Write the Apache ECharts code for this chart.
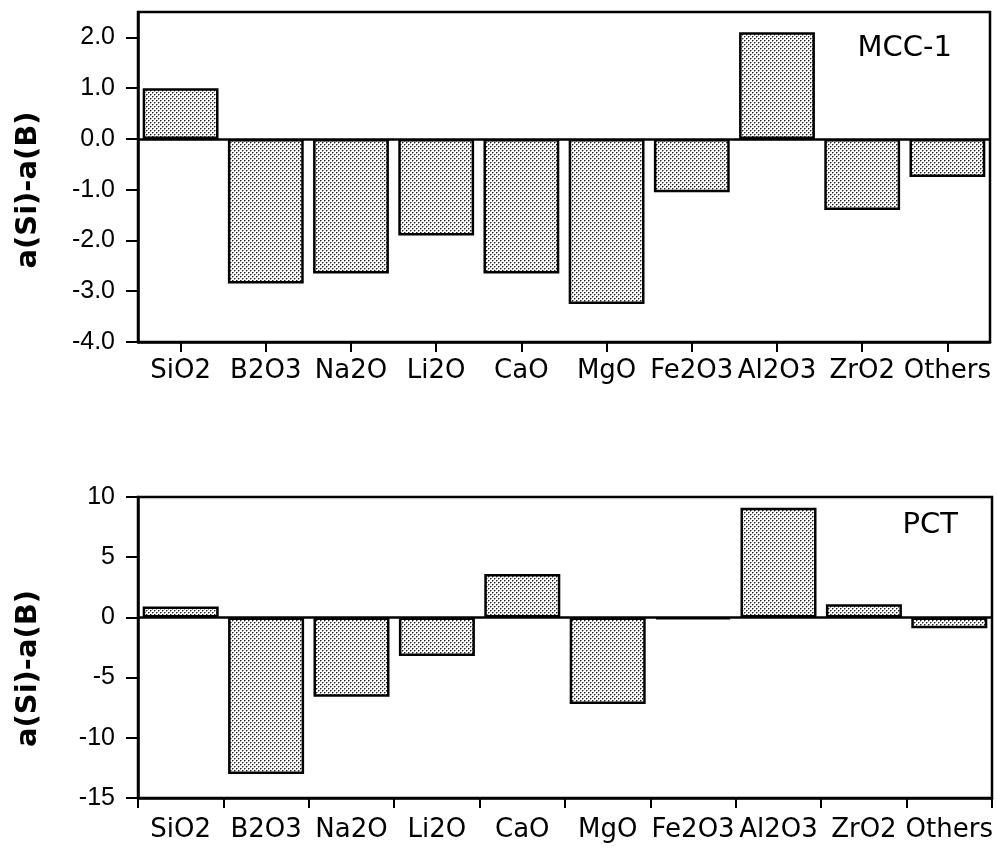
<!DOCTYPE html>
<html>
<head>
<meta charset="utf-8">
<script src="https://cdn.jsdelivr.net/npm/echarts@6/dist/echarts.min.js"></script>
<style>
html,body{margin:0;padding:0;background:#fff;}
#chart{width:997px;height:855px;}
</style>
</head>
<body>
<div id="chart"></div>
<script>
const categories = ['SiO2','B2O3','Na2O','Li2O','CaO','MgO','Fe2O3','Al2O3','ZrO2','Others'];
const mccValues = [1.0,-2.85,-2.65,-1.9,-2.65,-3.25,-1.05,2.1,-1.4,-0.75];
const pctValues = [0.9,-13.0,-6.6,-3.2,3.6,-7.2,-0.15,9.1,1.1,-0.9];
const mccTicks = [-4,-3,-2,-1,0,1,2];
const pctTicks = [-15,-10,-5,0,5,10];
const yName = 'a(Si)-a(B)';
const panelLabels = ['MCC-1','PCT'];

function stipple(){
  const c=document.createElement('canvas'); c.width=4; c.height=4;
  const g=c.getContext('2d');
  g.fillStyle='#fff'; g.fillRect(0,0,4,4);
  g.fillStyle='#222'; g.fillRect(0,0,1,1); g.fillRect(2,2,1,1);
  g.fillStyle='#999'; g.fillRect(1,0,1,1); g.fillRect(3,2,1,1); g.fillRect(0,1,1,1); g.fillRect(2,3,1,1);
  return c;
}
const fill = {image: stipple(), repeat:'repeat'};

const chart = echarts.init(document.getElementById('chart'), null, {renderer:'canvas'});

function xAxisCfg(gridIndex, align, margin){
  return {
    type:'category', gridIndex, data:categories,
    axisLine:{show:true, onZero:false, lineStyle:{color:'#000', width:2.5}},
    axisTick:{show:true, alignWithLabel:align, length:10, lineStyle:{color:'#000', width:2}},
    axisLabel:{interval:0, color:'#000', fontFamily:'DejaVu Sans', fontSize:26, margin:margin},
    splitLine:{show:false}
  };
}
function yAxisCfg(gridIndex, min, max, interval, ticks, fmt, shift){
  return {
    type:'value', gridIndex, min, max, interval,
    name: yName, nameLocation:'middle', nameGap:95, nameRotate:90,
    nameTextStyle:{fontFamily:'DejaVu Sans', fontWeight:'bold', fontSize:29, color:'#000', padding:[0,shift,0,0]},
    axisLine:{show:true, lineStyle:{color:'#000', width:2.5}},
    axisTick:{show:true, length:12, customValues:ticks, lineStyle:{color:'#000', width:2}},
    axisLabel:{customValues:ticks, color:'#000', fontFamily:'Liberation Sans', fontSize:25, margin:23, formatter:fmt},
    splitLine:{show:false}
  };
}
function barSeries(idx, values){
  return {
    type:'bar', xAxisIndex:idx, yAxisIndex:idx, data:values,
    barCategoryGap:'11%',
    itemStyle:{color:fill, borderColor:'#000', borderWidth:2.5},
    silent:true,
    markLine:{silent:true, symbol:'none', label:{show:false},
      lineStyle:{color:'#000', width:2.5, type:'solid'}, data:[{yAxis:0}]}
  };
}

chart.setOption({
  animation:false,
  backgroundColor:'#fff',
  grid:[
    {left:138, right:7, top:12, bottom:513, show:true, borderColor:'#000', borderWidth:2.5, containLabel:false},
    {left:138, right:5, top:497, bottom:57, show:true, borderColor:'#000', borderWidth:2.5, containLabel:false}
  ],
  xAxis:[xAxisCfg(0,true,16), xAxisCfg(1,false,19)],
  yAxis:[
    yAxisCfg(0,-4,2.5,1,mccTicks,v=>v.toFixed(1),26),
    yAxisCfg(1,-15,10,5,pctTicks,v=>String(v),42)
  ],
  series:[barSeries(0,mccValues), barSeries(1,pctValues)],
  graphic:[
    {type:'text', right:45, top:34, style:{text:panelLabels[0], font:'29px "DejaVu Sans"', fill:'#000'}},
    {type:'text', right:39, top:511, style:{text:panelLabels[1], font:'29px "DejaVu Sans"', fill:'#000'}}
  ]
});
</script>
</body>
</html>
